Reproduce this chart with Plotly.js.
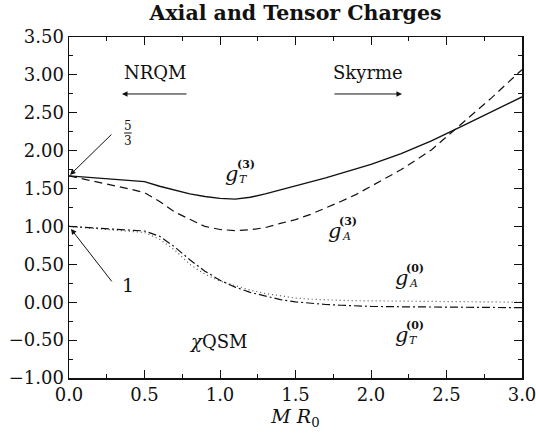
<!DOCTYPE html>
<html>
<head>
<meta charset="utf-8">
<script src="https://cdn.plot.ly/plotly-3.0.1.min.js"></script>
<style>html,body{margin:0;padding:0;background:#fff}#chart{width:536px;height:441px}</style>
</head>
<body>
<div id="chart"></div>
<script>
// M R0 values
const mr0 = [0, 0.1, 0.2, 0.3, 0.4, 0.5, 0.6, 0.7, 0.8, 0.9, 1.0, 1.1, 1.2, 1.3, 1.4, 1.5, 1.6, 1.7, 1.8, 1.9, 2.0, 2.2, 2.4, 2.6, 2.8, 3.0];
// g_T^(3) solid
const gT3 = [1.667, 1.652, 1.637, 1.622, 1.607, 1.592, 1.53, 1.475, 1.43, 1.395, 1.37, 1.36, 1.385, 1.43, 1.48, 1.53, 1.585, 1.64, 1.70, 1.76, 1.82, 1.96, 2.13, 2.32, 2.51, 2.71];
// g_A^(3) dashed
const gA3 = [1.667, 1.625, 1.58, 1.54, 1.495, 1.446, 1.33, 1.19, 1.10, 1.00, 0.96, 0.945, 0.955, 0.985, 1.04, 1.09, 1.16, 1.24, 1.33, 1.42, 1.53, 1.75, 2.01, 2.35, 2.70, 3.07];
// g_A^(0) dotted
const gA0 = [1.0, 0.985, 0.97, 0.955, 0.94, 0.92, 0.83, 0.69, 0.50, 0.37, 0.28, 0.215, 0.16, 0.115, 0.08, 0.055, 0.04, 0.03, 0.025, 0.02, 0.017, 0.013, 0.01, 0.007, 0.004, 0.0];
// g_T^(0) dash-dot
const gT0 = [1.0, 0.99, 0.98, 0.97, 0.955, 0.94, 0.87, 0.73, 0.56, 0.41, 0.29, 0.20, 0.13, 0.08, 0.035, 0.005, -0.015, -0.03, -0.04, -0.05, -0.055, -0.06, -0.065, -0.068, -0.07, -0.072];

const serif = 'DejaVu Serif';
const black = '#111';

const traces = [
  {x: mr0, y: gT3, mode: 'lines', line: {color: black, width: 1.4}},
  {x: mr0, y: gA3, mode: 'lines', line: {color: black, width: 1.2, dash: '8px,5px'}},
  {x: mr0, y: gA0, mode: 'lines', line: {color: '#555', width: 1.2, dash: '1px,3px'}},
  {x: mr0, y: gT0, mode: 'lines', line: {color: black, width: 1.2, dash: '8px,3px,2px,3px'}}
];

function txt(x, y, text, size, opts) {
  return Object.assign({x: x, y: y, xref: 'x', yref: 'y', text: text, showarrow: false,
    font: {family: serif, size: size, color: black}}, opts || {});
}
function gLabel(x, y, sub, sup) {
  return [
    txt(x, y, '<i>g</i>', 21),
    txt(x, y, '<b>(' + sup + ')</b>', 11, {xshift: 14, yshift: 9}),
    txt(x, y, '<i>' + sub + '</i>', 11, {xshift: 12, yshift: -6})
  ];
}
function arrow(x, y, ax, ay) {
  return {x: x, y: y, ax: ax, ay: ay, xref: 'x', yref: 'y', axref: 'x', ayref: 'y',
    text: '', showarrow: true, arrowhead: 2, arrowsize: 1.1, arrowwidth: 1, arrowcolor: black, standoff: 0};
}

const annotations = [
  txt(0.57, 3.025, 'NRQM', 18),
  txt(1.977, 3.025, 'Skyrme', 18),
  arrow(0.351, 2.748, 0.788, 2.748),
  arrow(2.205, 2.748, 1.748, 2.748),
  txt(0.39, 2.33, '5', 12),
  txt(0.39, 2.13, '3', 12),
  arrow(0.007, 1.68, 0.291, 2.233),
  txt(0.39, 0.228, '1', 19),
  arrow(0.013, 0.967, 0.291, 0.255),
  txt(0.987, -0.524, '<i>χ</i>QSM', 18)
].concat(gLabel(1.079, 1.693, 'T', 3), gLabel(1.755, 0.941, 'A', 3),
         gLabel(2.199, 0.32, 'A', 0), gLabel(2.199, -0.431, 'T', 0));

const axisCommon = {
  showline: true, linecolor: black, linewidth: 1.5, mirror: 'ticks',
  ticks: 'inside', ticklen: 8, tickwidth: 1, tickcolor: black,
  showgrid: false, zeroline: false, ticklabeloverflow: 'allow',
  tickfont: {family: serif, size: 18, color: black}
};

const layout = {
  width: 536, height: 441,
  margin: {l: 69, r: 14, t: 37, b: 63},
  paper_bgcolor: '#fff', plot_bgcolor: '#fff',
  showlegend: false,
  title: {text: '<b>Axial and Tensor Charges</b>', xref: 'paper', x: 0.5, xanchor: 'center',
    yref: 'container', y: 0.972, yanchor: 'middle',
    font: {family: serif, size: 20.5, color: black}},
  xaxis: Object.assign({}, axisCommon, {
    range: [0, 3], dtick: 0.5, tick0: 0, tickformat: '.1f',
    minor: {dtick: 0.25, ticks: 'inside', ticklen: 4, tickcolor: black},
    title: {text: '<i>M R</i><sub>0</sub>', standoff: 4, font: {family: serif, size: 19, color: black}}
  }),
  yaxis: Object.assign({}, axisCommon, {
    range: [-1, 3.5], dtick: 0.5, tick0: 0, tickformat: '.2f',
    minor: {dtick: 0.25, ticks: 'inside', ticklen: 4, tickcolor: black}
  }),
  shapes: [
    {type: 'line', xref: 'x', yref: 'y', x0: 0.365, x1: 0.415, y0: 2.233, y1: 2.233,
      line: {color: black, width: 1}}
  ],
  annotations: annotations
};

Plotly.newPlot('chart', traces, layout, {displayModeBar: false, staticPlot: true});
</script>
</body>
</html>
